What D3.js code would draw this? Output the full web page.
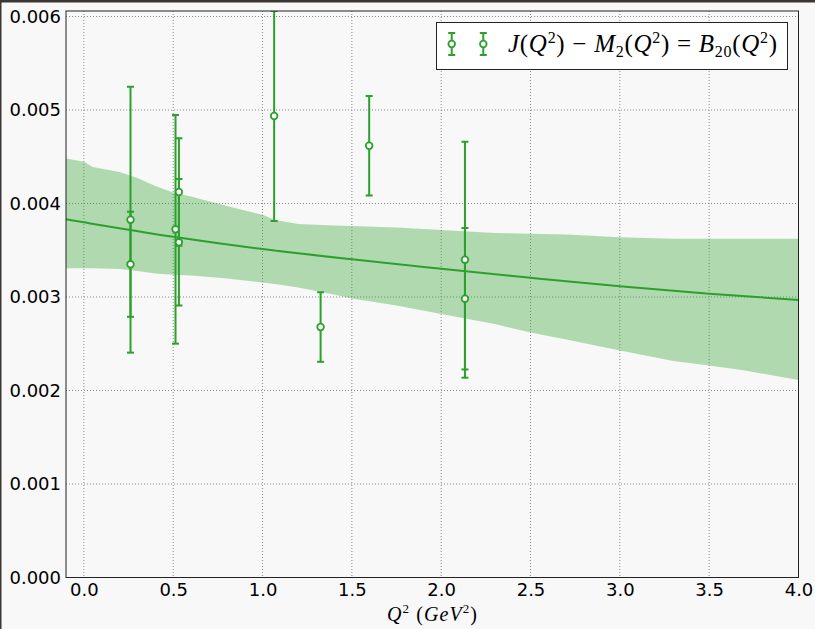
<!DOCTYPE html>
<html>
<head>
<meta charset="utf-8">
<script src="https://cdn.jsdelivr.net/npm/d3@7"></script>
<style>
  body { margin: 0; background: #f8f8f8; }
  svg { display: block; }
  .tick text { font-family: "DejaVu Sans", sans-serif; font-size: 18px; fill: #000; }
  .math { font-family: "Liberation Serif", "DejaVu Serif", serif; }
</style>
</head>
<body>
<div id="wrapper"></div>
<script>
// measured points (Q^2 in GeV^2)
const q2 = [0.261, 0.261, 0.513, 0.532, 0.532, 1.065, 1.325, 1.597, 2.133, 2.133]
const vals = [0.003827, 0.003350, 0.003724, 0.004123, 0.003585, 0.004936, 0.002679, 0.004618, 0.003399, 0.002982]
const errs = [0.001422, 0.000562, 0.001223, 0.000574, 0.000676, 0.001123, 0.000372, 0.000532, 0.001262, 0.000757]

// fit curve
const fitQ = [-0.1, 0.0, 0.5, 1.0, 1.5, 2.0, 2.5, 3.0, 3.5, 4.0]
const fitV = [0.003831, 0.003799, 0.003645, 0.003513, 0.003403, 0.003303, 0.003206, 0.003114, 0.003035, 0.002968]

// error band of the fit
const bandQ = [-0.1, 0.0, 0.05, 0.2, 0.3, 0.4, 0.5, 0.6, 0.8, 1.0, 1.07, 1.2, 1.4, 1.5, 1.75, 2.0, 2.3, 2.5, 2.7, 3.0, 3.3, 3.5, 3.7, 4.0]
const bandHi = [0.004482, 0.004447, 0.004390, 0.004337, 0.004273, 0.004187, 0.004118, 0.004075, 0.003973, 0.003880, 0.003824, 0.003781, 0.003765, 0.003759, 0.003743, 0.003717, 0.003684, 0.003677, 0.003668, 0.003639, 0.003623, 0.003623, 0.003623, 0.003623]
const bandLo = [0.003307, 0.003307, 0.003307, 0.003299, 0.003278, 0.003251, 0.003237, 0.003230, 0.003198, 0.003155, 0.003140, 0.003102, 0.003027, 0.002984, 0.002909, 0.002818, 0.002711, 0.002620, 0.002545, 0.002428, 0.002316, 0.002267, 0.002214, 0.002112]

const xTicks = [0.0, 0.5, 1.0, 1.5, 2.0, 2.5, 3.0, 3.5, 4.0]
const yTicks = [0.000, 0.001, 0.002, 0.003, 0.004, 0.005, 0.006]

const green = "#2ca02c"

const W = 815, H = 629
const box = {left: 66, right: 798.5, top: 11, bottom: 577.5}

const svg = d3.select("#wrapper")
    .append("svg")
    .attr("width", W)
    .attr("height", H)

svg.append("rect").attr("width", W).attr("height", H).attr("fill", "#f8f8f8")
// dark screenshot edge
svg.append("rect").attr("x", 0).attr("y", 0).attr("width", W).attr("height", 2.5).attr("fill", "#3b3632")
svg.append("rect").attr("x", 0).attr("y", 0).attr("width", 1.5).attr("height", H).attr("fill", "#3b3632")

const x = d3.scaleLinear().domain([-0.1, 4.0]).range([box.left, box.right])
const y = d3.scaleLinear().domain([0, 0.006059]).range([box.bottom, box.top])

svg.append("defs").append("clipPath").attr("id", "plotclip")
    .append("rect")
    .attr("x", box.left).attr("y", box.top)
    .attr("width", box.right - box.left).attr("height", box.bottom - box.top)

// grid
const grid = svg.append("g")
grid.selectAll(".gx").data(xTicks).enter().append("line")
    .attr("x1", d => x(d)).attr("x2", d => x(d))
    .attr("y1", box.top).attr("y2", box.bottom)
    .attr("stroke", "#8a8a8a").attr("stroke-width", 1).attr("stroke-dasharray", "1,2")
grid.selectAll(".gy").data(yTicks).enter().append("line")
    .attr("x1", box.left).attr("x2", box.right)
    .attr("y1", d => y(d)).attr("y2", d => y(d))
    .attr("stroke", "#8a8a8a").attr("stroke-width", 1).attr("stroke-dasharray", "1,2")

const plot = svg.append("g").attr("clip-path", "url(#plotclip)")

// band
const band = bandQ.map((q, i) => ({q: q, hi: bandHi[i], lo: bandLo[i]}))
plot.append("path")
    .datum(band)
    .attr("d", d3.area().x(d => x(d.q)).y0(d => y(d.lo)).y1(d => y(d.hi)))
    .attr("fill", green)
    .attr("fill-opacity", 0.35)

// fit line
const fit = fitQ.map((q, i) => ({q: q, v: fitV[i]}))
plot.append("path")
    .datum(fit)
    .attr("d", d3.line().x(d => x(d.q)).y(d => y(d.v)).curve(d3.curveMonotoneX))
    .attr("fill", "none")
    .attr("stroke", green)
    .attr("stroke-width", 2)

// error bars
const points = q2.map((q, i) => ({q: q, v: vals[i], e: errs[i]}))
const bars = plot.selectAll(".bar").data(points).enter().append("g")
bars.append("line")
    .attr("x1", d => x(d.q)).attr("x2", d => x(d.q))
    .attr("y1", d => y(d.v - d.e)).attr("y2", d => y(d.v + d.e))
    .attr("stroke", green).attr("stroke-width", 2)
bars.append("line")
    .attr("x1", d => x(d.q) - 3.5).attr("x2", d => x(d.q) + 3.5)
    .attr("y1", d => y(d.v + d.e)).attr("y2", d => y(d.v + d.e))
    .attr("stroke", green).attr("stroke-width", 2)
bars.append("line")
    .attr("x1", d => x(d.q) - 3.5).attr("x2", d => x(d.q) + 3.5)
    .attr("y1", d => y(d.v - d.e)).attr("y2", d => y(d.v - d.e))
    .attr("stroke", green).attr("stroke-width", 2)
plot.selectAll(".pt").data(points).enter().append("circle")
    .attr("cx", d => x(d.q)).attr("cy", d => y(d.v))
    .attr("r", 3.3)
    .attr("fill", "#fff").attr("stroke", green).attr("stroke-width", 1.8)

// frame
svg.append("rect")
    .attr("x", box.left).attr("y", box.top)
    .attr("width", box.right - box.left).attr("height", box.bottom - box.top)
    .attr("fill", "none").attr("stroke", "#222").attr("stroke-width", 1)

// axes
const xAxis = svg.append("g")
    .attr("transform", `translate(0,${box.bottom})`)
    .call(d3.axisBottom(x).tickValues(xTicks).tickFormat(d3.format(".1f")).tickSize(0).tickPadding(6))
xAxis.select(".domain").remove()
const yAxis = svg.append("g")
    .attr("transform", `translate(${box.left},0)`)
    .call(d3.axisLeft(y).tickValues(yTicks).tickFormat(d3.format(".3f")).tickSize(0).tickPadding(5))
yAxis.select(".domain").remove()

// x label: Q^2 (GeV^2)
const xl = svg.append("text")
    .attr("class", "math")
    .attr("x", 387).attr("y", 621)
    .attr("font-size", 20)
    .attr("textLength", 90)
    .attr("lengthAdjust", "spacing")
xl.append("tspan").attr("font-style", "italic").text("Q")
xl.append("tspan").attr("font-size", 13).attr("dy", -8).text("2")
xl.append("tspan").attr("dy", 8).text("  (")
xl.append("tspan").attr("font-style", "italic").text("GeV")
xl.append("tspan").attr("font-size", 13).attr("dy", -8).text("2")
xl.append("tspan").attr("dy", 8).text(")")

// legend
const lg = svg.append("g")
lg.append("rect")
    .attr("x", 436.5).attr("y", 22.5).attr("width", 351).attr("height", 47)
    .attr("fill", "#fff").attr("stroke", "#222").attr("stroke-width", 1)
const legX = [451.7, 483.3]
legX.forEach(function(lx) {
    lg.append("line").attr("x1", lx).attr("x2", lx).attr("y1", 33).attr("y2", 55)
        .attr("stroke", green).attr("stroke-width", 2)
    lg.append("line").attr("x1", lx - 3.5).attr("x2", lx + 3.5).attr("y1", 33).attr("y2", 33)
        .attr("stroke", green).attr("stroke-width", 2)
    lg.append("line").attr("x1", lx - 3.5).attr("x2", lx + 3.5).attr("y1", 55).attr("y2", 55)
        .attr("stroke", green).attr("stroke-width", 2)
    lg.append("circle").attr("cx", lx).attr("cy", 44).attr("r", 3.3)
        .attr("fill", "#fff").attr("stroke", green).attr("stroke-width", 1.8)
})

const lt = lg.append("text")
    .attr("class", "math")
    .attr("x", 508).attr("y", 52)
    .attr("font-size", 25)
    .attr("textLength", 269)
    .attr("lengthAdjust", "spacing")
const parts = [
    ["J", "i"], ["(", "n"], ["Q", "i"], ["2", "sup"], [")", "n"],
    [" \u2212 ", "n"], ["M", "i"], ["2", "sub"], ["(", "n"], ["Q", "i"], ["2", "sup"], [")", "n"],
    [" = ", "n"], ["B", "i"], ["20", "sub"], ["(", "n"], ["Q", "i"], ["2", "sup"], [")", "n"]
]
let shift = 0
parts.forEach(function(p) {
    const t = lt.append("tspan").text(p[0])
    let target = 0
    if (p[1] == "i") t.attr("font-style", "italic")
    if (p[1] == "sup") { t.attr("font-size", 16); target = -9 }
    if (p[1] == "sub") { t.attr("font-size", 16); target = 5 }
    t.attr("dy", target - shift)
    shift = target
})
</script>
</body>
</html>
